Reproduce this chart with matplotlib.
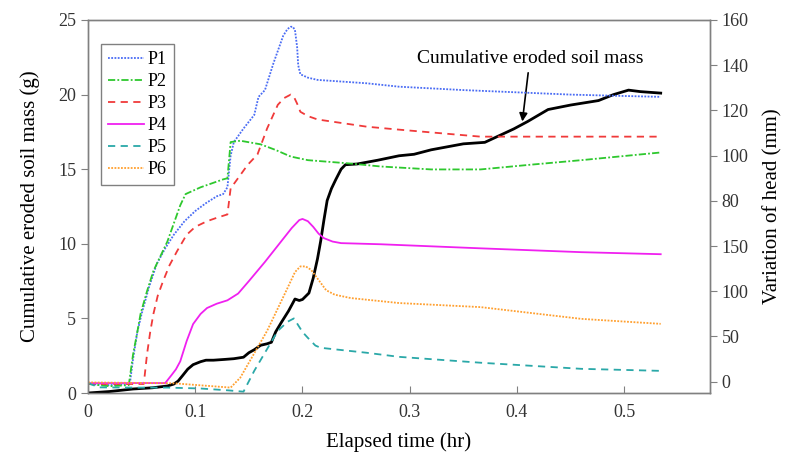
import matplotlib

matplotlib.use("Agg", force=True)
import matplotlib.pyplot as plt
from matplotlib.ticker import FixedLocator, FixedFormatter

plt.rcParams["font.family"] = ["Liberation Serif", "DejaVu Serif"]

# cumulative eroded soil mass (left axis, g)
mass_t = [0, 0.02, 0.042, 0.06, 0.074, 0.08, 0.084, 0.088, 0.093, 0.098, 0.105, 0.11,
          0.117, 0.127, 0.136, 0.145, 0.15, 0.155, 0.161, 0.167, 0.171, 0.175, 0.18,
          0.187, 0.193, 0.197, 0.2, 0.206, 0.21, 0.214, 0.217, 0.22, 0.223, 0.227,
          0.231, 0.236, 0.24, 0.251, 0.27, 0.29, 0.304, 0.32, 0.35, 0.37, 0.397,
          0.41, 0.429, 0.45, 0.476, 0.49, 0.504, 0.515, 0.534]
mass_g = [0, 0.1, 0.27, 0.35, 0.47, 0.6, 0.8, 1.15, 1.6, 1.9, 2.1, 2.2,
          2.2, 2.25, 2.3, 2.4, 2.7, 2.9, 3.2, 3.3, 3.4, 4.1, 4.7,
          5.5, 6.3, 6.2, 6.27, 6.7, 7.7, 9.0, 10.2, 11.6, 12.9, 13.7,
          14.3, 15.0, 15.3, 15.35, 15.6, 15.9, 16.0, 16.3, 16.7, 16.8, 17.7,
          18.2, 19.0, 19.3, 19.6, 20.0, 20.3, 20.2, 20.1]

# variation of head (right axis, mm)
p1_t = [0, 0.02, 0.039, 0.042, 0.046, 0.05, 0.057, 0.064, 0.072, 0.08, 0.09, 0.1,
        0.11, 0.12, 0.126, 0.13, 0.133, 0.136, 0.145, 0.155, 0.159, 0.165, 0.173,
        0.182, 0.186, 0.189, 0.191, 0.193, 0.195, 0.196, 0.198, 0.205, 0.214,
        0.26, 0.29, 0.35, 0.4, 0.45, 0.49, 0.534]
p1_v = [-1, -1.5, -1, 10, 22, 30, 42, 52, 59, 65, 71, 75.5,
        79, 82, 83, 86, 100, 106, 112, 118, 126, 129, 141,
        153, 156, 157, 157, 155.5, 148, 140, 136, 134.5, 133.5,
        132, 130.5, 129, 128, 127, 126.5, 126]

p2_t = [0, 0.02, 0.038, 0.042, 0.046, 0.049, 0.055, 0.061, 0.068, 0.074, 0.08, 0.086,
        0.091, 0.105, 0.126, 0.13, 0.133, 0.142, 0.161, 0.175, 0.189, 0.205, 0.245,
        0.273, 0.32, 0.366, 0.413, 0.46, 0.534]
p2_v = [-1, -2, -1.5, 12, 22, 30, 40, 49, 56, 62, 70, 78,
        83, 86, 89.5, 90, 106, 106.6, 105, 102.5, 99.6, 98, 96.5,
        95.2, 93.9, 93.9, 96, 98, 101.4]

p3_t = [0, 0.03, 0.052, 0.055, 0.058, 0.061, 0.065, 0.07, 0.076, 0.083, 0.092, 0.1,
        0.111, 0.12, 0.13, 0.133, 0.149, 0.158, 0.167, 0.177, 0.183, 0.189, 0.192,
        0.195, 0.198, 0.205, 0.214, 0.26, 0.29, 0.366, 0.43, 0.534]
p3_v = [-1, -1, -1, 12, 22, 30, 38, 44.5, 51.5, 57.7, 65, 68.5,
        71, 72.5, 74, 85.5, 96, 100.5, 112, 122.5, 125.5, 127, 126,
        123, 119.4, 117.5, 116, 112.8, 111.5, 108.4, 108.4, 108.4]

p4_t = [0, 0.04, 0.072, 0.078, 0.082, 0.086, 0.092, 0.098, 0.105, 0.111, 0.12, 0.13,
        0.14, 0.15, 0.165, 0.18, 0.19, 0.197, 0.2, 0.205, 0.21, 0.215, 0.22, 0.228,
        0.236, 0.273, 0.366, 0.46, 0.534]
p4_v = [-0.6, -0.6, -0.6, 3, 5.5, 9, 18, 25.5, 30, 32.6, 34.5, 36,
        39, 44.5, 53, 62, 68, 71.5, 72, 71, 68.5, 65.5, 63.5, 62,
        61.3, 60.8, 59, 57.3, 56.4]

p5_t = [0, 0.01, 0.042, 0.074, 0.105, 0.13, 0.145, 0.155, 0.177, 0.186, 0.192, 0.196,
        0.2, 0.205, 0.212, 0.217, 0.26, 0.29, 0.366, 0.46, 0.534]
p5_v = [-0.5, -2.5, -2.6, -2.6, -3, -3.8, -4.4, 4.8, 22.5, 26.5, 28, 25,
        22, 19.4, 16, 15, 12.8, 11, 8.4, 5.7, 4.8]

p6_t = [0, 0.08, 0.133, 0.142, 0.167, 0.186, 0.193, 0.198, 0.203, 0.208, 0.215,
        0.222, 0.23, 0.245, 0.29, 0.366, 0.46, 0.534]
p6_v = [-0.3, -0.7, -2.6, 1.8, 22.5, 41.4, 48.5, 51, 51, 49.5, 45,
        40.5, 38.5, 37, 34.8, 33, 27.8, 25.6]

x_ticks = [0, 0.1, 0.2, 0.3, 0.4, 0.5]
x_tick_labels = ["0", "0.1", "0.2", "0.3", "0.4", "0.5"]
left_ticks = [0, 5, 10, 15, 20, 25]
right_ticks = [0, 20, 40, 60, 80, 100, 120, 140, 160]
right_tick_labels = ["0", "50", "100", "150", "80", "100", "120", "140", "160"]

GRAY = "#808080"

fig = plt.figure(figsize=(7.85, 4.65), dpi=100)
ax1 = fig.add_axes([0.1121, 0.1548, 0.7924, 0.8022])
ax2 = ax1.twinx()

ax1.plot(mass_t, mass_g, color="black", lw=2.0, zorder=3)

series = [
    (p1_t, p1_v, "P1", "#4a6cf4", (0, (1, 0.8))),
    (p2_t, p2_v, "P2", "#2ec82e", (0, (4, 1.2, 1, 1.2))),
    (p3_t, p3_v, "P3", "#f03a3a", (0, (4, 3))),
    (p4_t, p4_v, "P4", "#f020f0", "-"),
    (p5_t, p5_v, "P5", "#2aa8a8", (0, (4, 3))),
    (p6_t, p6_v, "P6", "#ffa030", (0, (1, 0.8))),
]
for t, v, name, color, ls in series:
    ax2.plot(t, v, color=color, lw=1.3, linestyle=ls, label=name)

ax1.set_xlim(0, 0.58)
ax1.set_ylim(0, 25)
ax2.set_ylim(-5, 160)

ax1.xaxis.set_major_locator(FixedLocator(x_ticks))
ax1.xaxis.set_major_formatter(FixedFormatter(x_tick_labels))
ax1.yaxis.set_major_locator(FixedLocator(left_ticks))
ax2.yaxis.set_major_locator(FixedLocator(right_ticks))
ax2.yaxis.set_major_formatter(FixedFormatter(right_tick_labels))

for ax in (ax1, ax2):
    for spine in ax.spines.values():
        spine.set_color(GRAY)
        spine.set_linewidth(1.0)

ax1.tick_params(axis="x", direction="in", length=5, color=GRAY, labelsize=13, pad=8,
                labelcolor="#333333")
ax1.tick_params(axis="y", direction="out", length=5, color=GRAY, labelsize=13,
                labelcolor="#333333")
ax2.tick_params(axis="y", direction="out", length=5, color=GRAY, labelsize=13,
                labelcolor="#333333")

ax1.set_xlabel("Elapsed time (hr)", fontsize=15, labelpad=8)
ax1.set_ylabel("Cumulative eroded soil mass (g)", fontsize=15, labelpad=13)
ax2.set_ylabel("Variation of head (mm)", fontsize=15, labelpad=10)

ax1.annotate("Cumulative eroded soil mass", xy=(0.405, 18.2), xytext=(0.412, 22.4),
             ha="center", va="center", fontsize=14,
             arrowprops=dict(arrowstyle="-|>", color="black", lw=1.2,
                             shrinkA=2, shrinkB=0, mutation_scale=12))

leg = ax2.legend(loc="upper left", bbox_to_anchor=(0.021, 0.935), fontsize=13,
                 handlelength=2.0, handletextpad=0.2, labelspacing=0.27,
                 borderpad=0.4, borderaxespad=0, fancybox=False, framealpha=1)
leg.get_frame().set_edgecolor(GRAY)
leg.get_frame().set_linewidth(1.0)

fig.savefig("out.png", dpi=100, facecolor="white")
